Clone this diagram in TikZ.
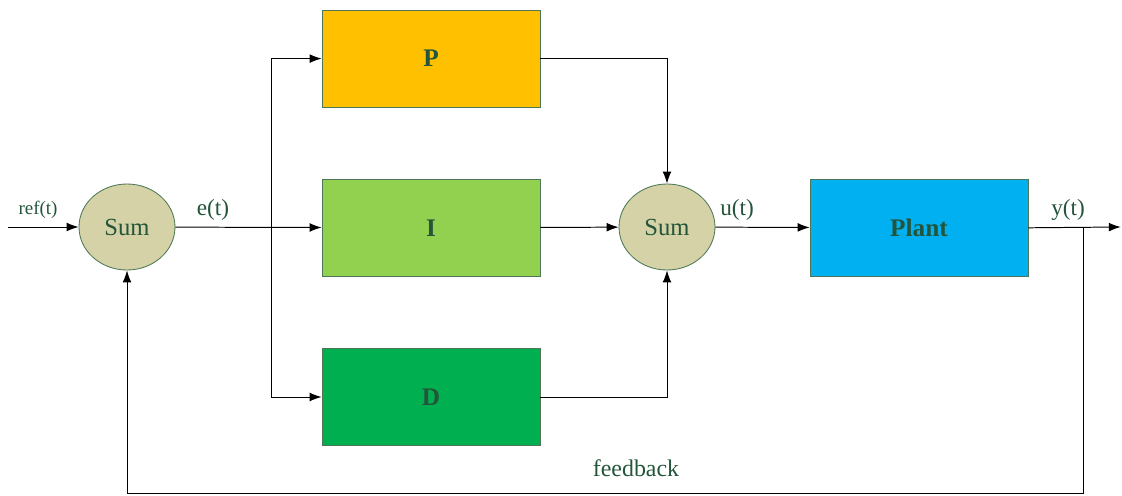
\documentclass[tikz,border=0pt]{standalone}
\usepackage{fontspec}
\setmainfont{Liberation Serif}
\usetikzlibrary{shapes.geometric,arrows.meta}
\definecolor{txtgreen}{HTML}{24553A}
\definecolor{sumfill}{HTML}{D4D2A6}
\definecolor{sumline}{HTML}{4D7755}
\definecolor{pcol}{HTML}{FFC000}
\definecolor{icol}{HTML}{92D050}
\definecolor{dcol}{HTML}{00B050}
\definecolor{plantcol}{HTML}{00B0F0}
\tikzset{
  sumnode/.style={ellipse, draw=sumline, fill=sumfill, line width=0.6pt,
    minimum width=2.4cm, minimum height=2.15cm, inner sep=0pt,
    text=txtgreen, font=\fontsize{17.5}{17.5}\selectfont},
  blk/.style={rectangle, draw=sumline, line width=0.5pt,
    minimum width=5.45cm, minimum height=2.42cm,
    text=txtgreen, font=\fontsize{18}{18}\selectfont\bfseries},
  sig/.style={text=txtgreen, font=\fontsize{16.5}{16.5}\selectfont}
}
\begin{document}
\begin{tikzpicture}[>={Latex[length=3mm,width=2.2mm]}, line width=0.7pt]
       \useasboundingbox (0,0) rectangle (28.05,12.375);
       % blocks
       \node [sumnode] (sum1) at (3.175,6.7) {Sum};
       \node [sumnode] (sum2) at (16.675,6.7) {Sum};
       \node [blk, fill=pcol] (p) at (10.775,10.91) {P};
       \node [blk, fill=icol] (i) at (10.775,6.68) {I};
       \node [blk, fill=dcol] (d) at (10.775,2.45) {D};
       \node [blk, fill=plantcol] (plant) at (22.975,6.68) {Plant};
       % points on the lines
       \coordinate (in) at (0.2,6.7);
       \coordinate (br) at (6.775,6.7);
       \coordinate (fb) at (27.075,6.7);
       \coordinate (fbc) at (27.075,0.05);
       \coordinate (out) at (28.02,6.7);
       % labels
       \node [sig, font=\fontsize{13.5}{13.5}\selectfont] (ref) at (0.95,7.12) {ref(t)};
       \node [sig] (e) at (5.325,7.12) {e(t)};
       \node [sig] (u) at (18.425,7.12) {u(t)};
       \node [sig] (y) at (26.7,7.12) {y(t)};
       \node [sig, font=\fontsize{17}{17}\selectfont] (fbl) at (15.9,0.68) {feedback};
       % connections
       \draw [->] (in) -- (sum1);
       \draw [->] (sum1) -- (i);
       \draw [->] (br) |- (p.west);
       \draw [->] (br) |- (d.west);
       \draw [->] (p.east) -| (sum2.north);
       \draw [->] (d.east) -| (sum2.south);
       \draw [->] (i) -- (sum2);
       \draw [->] (sum2) -- (plant);
       \draw [->] (plant.east) -- (out);
       \draw [->] (fb) -- (fbc) -| (sum1.south);
     \end{tikzpicture}
\end{document}
